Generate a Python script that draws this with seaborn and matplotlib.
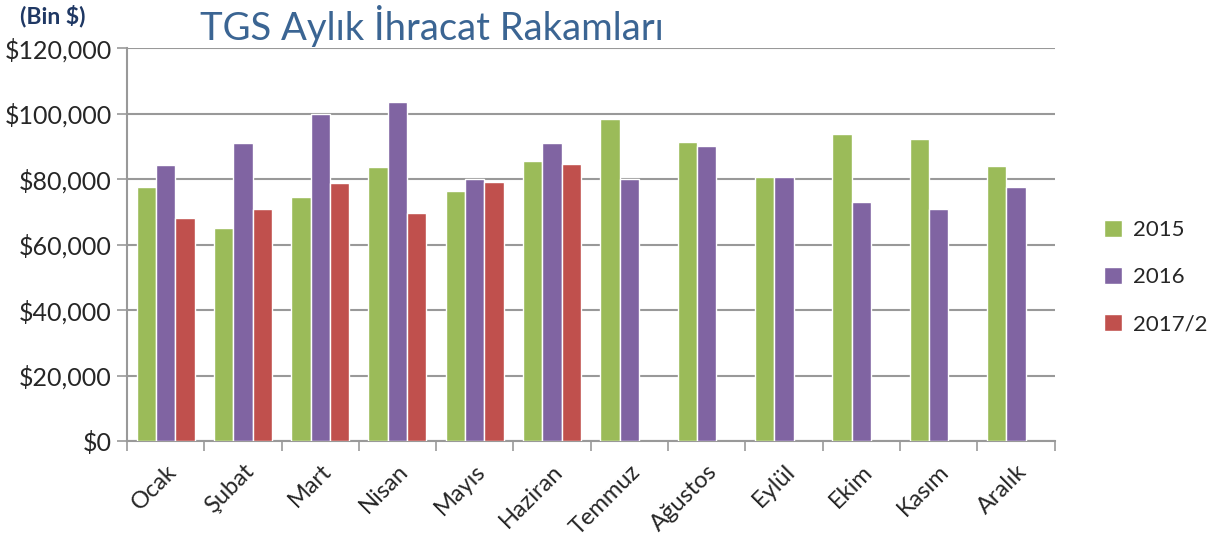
import numpy as np
import pandas as pd
import seaborn as sns
import matplotlib.pyplot as plt
from matplotlib.ticker import FuncFormatter, FixedLocator
from matplotlib.patches import Patch

months = ['Ocak', 'Şubat', 'Mart', 'Nisan', 'Mayıs', 'Haziran',
          'Temmuz', 'Ağustos', 'Eylül', 'Ekim', 'Kasım', 'Aralık']
years = ['2015', '2016', '2017/2']
v2015 = [77600, 65200, 74400, 83800, 76300, 85400, 98400, 91400, 80500, 93800, 92100, 84000]
v2016 = [84200, 91100, 99800, 103400, 80100, 91000, 79900, 90100, 80500, 73100, 70800, 77600]
v2017 = [68000, 71000, 78700, 69500, 79100, 84600, np.nan, np.nan, np.nan, np.nan, np.nan, np.nan]

colors = ['#9BBB59', '#8064A2', '#C0504D']

df = pd.DataFrame({'Ay': months * 3,
                   'Yil': [y for y in years for _ in months],
                   'Deger': v2015 + v2016 + v2017})

sns.set_style('white')
plt.rcParams['font.family'] = ['Lato', 'DejaVu Sans']

fig = plt.figure(figsize=(12.32, 5.4), dpi=100)
ax = fig.add_axes([0.103, 0.183, 0.753, 0.728])

sns.barplot(data=df, x='Ay', y='Deger', hue='Yil', palette=colors,
            width=0.75, saturation=1, ax=ax, legend=False, zorder=3)

ax.set_ylim(0, 120000)
ax.set_xlim(-0.5, 11.5)
ax.set_yticks(np.arange(0, 120001, 20000))
ax.yaxis.set_major_formatter(FuncFormatter(lambda v, p: '${:,.0f}'.format(v)))
ax.grid(axis='y', color='#999999', linewidth=1.5, zorder=0)
ax.set_xlabel('')
ax.set_ylabel('')

# tick marks between categories, labels at centres
ax.set_xticks(np.arange(12))
ax.set_xticklabels(months, rotation=45, ha='right', rotation_mode='anchor', fontsize=17)
ax.tick_params(axis='x', length=0, pad=14)
ax.xaxis.set_minor_locator(FixedLocator(np.arange(-0.5, 12, 1)))
ax.tick_params(axis='x', which='minor', length=7, color='#999999', width=1.2, bottom=True)
ax.tick_params(axis='y', length=7, color='#999999', width=1.2, left=True, labelsize=18, pad=4)

for s in ['top', 'right']:
    ax.spines[s].set_visible(False)
for s in ['left', 'bottom']:
    ax.spines[s].set_color('#999999')
    ax.spines[s].set_linewidth(1.5)

handles = [Patch(facecolor=c, label=y) for c, y in zip(colors, years)]
fig.legend(handles=handles, loc='center left', bbox_to_anchor=(0.88, 0.487),
           frameon=False, fontsize=16, handlelength=0.8, handleheight=0.8,
           labelspacing=1.2, handletextpad=0.5)

fig.text(0.162, 0.952, 'TGS Aylık İhracat Rakamları', fontsize=27.5,
         color='#3B6593', va='center', ha='left')
fig.text(0.016, 0.97, '(Bin $)', fontsize=16.5, fontweight='bold',
         color='#1F3864', va='center', ha='left')

fig.savefig('out.png', dpi=100)
